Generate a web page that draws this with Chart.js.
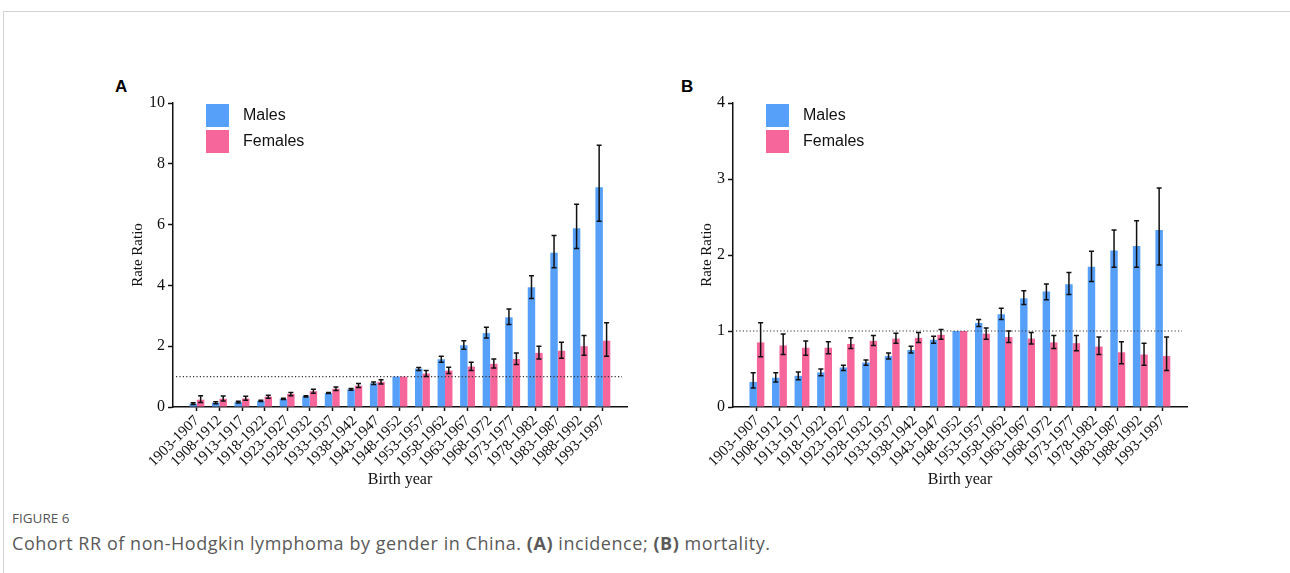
<!DOCTYPE html>
<html>
<head>
<meta charset="utf-8">
<script src="https://cdn.jsdelivr.net/npm/chart.js@4.4.0/dist/chart.umd.min.js"></script>
<style>
  body { margin: 0; background: #fff; width: 1290px; height: 573px; position: relative; overflow: hidden; font-family: "Open Sans", sans-serif; }
  .frame { position: absolute; left: 3px; top: 11px; width: 1300px; height: 600px; border-top: 1px solid #d2d2d2; border-left: 1px solid #d2d2d2; }
  .panel { position: absolute; top: 80px; }
  .tag { position: absolute; top: 77px; font: bold 17px "Liberation Sans", Arial, sans-serif; color: #000; }
  .fig { position: absolute; left: 12px; top: 509px; font-size: 13.5px; color: #555; }
  .cap { position: absolute; left: 12px; top: 531px; font-size: 18px; letter-spacing: 0.55px; color: #5a5a5a; white-space: nowrap; }
</style>
</head>
<body>
<div class="frame"></div>
<div class="tag" style="left:115px">A</div>
<div class="tag" style="left:681px">B</div>
<canvas id="chartA" class="panel" style="left:100px" width="540" height="420"></canvas>
<canvas id="chartB" class="panel" style="left:660px" width="540" height="420"></canvas>
<div class="fig">FIGURE 6</div>
<div class="cap">Cohort RR of non-Hodgkin lymphoma by gender in China. <b>(A)</b> incidence; <b>(B)</b> mortality.</div>

<script>
// birth cohorts
var cohorts = ["1903-1907", "1908-1912", "1913-1917", "1918-1922", "1923-1927", "1928-1932",
  "1933-1937", "1938-1942", "1943-1947", "1948-1952", "1953-1957", "1958-1962", "1963-1967",
  "1968-1972", "1973-1977", "1978-1982", "1983-1987", "1988-1992", "1993-1997"];

// (A) incidence
var maleInc = [0.11, 0.14, 0.16, 0.20, 0.27, 0.35, 0.46, 0.58, 0.78, 1.00, 1.26, 1.57, 2.03, 2.43, 2.95, 3.94, 5.07, 5.88, 7.23];
var maleIncLow = [0.08, 0.11, 0.13, 0.18, 0.25, 0.33, 0.44, 0.55, 0.74, null, 1.20, 1.47, 1.90, 2.27, 2.71, 3.57, 4.58, 5.21, 6.11];
var maleIncHigh = [0.14, 0.17, 0.19, 0.22, 0.29, 0.37, 0.48, 0.61, 0.82, null, 1.30, 1.67, 2.18, 2.62, 3.22, 4.32, 5.64, 6.67, 8.61];
var femaleInc = [0.24, 0.27, 0.28, 0.34, 0.43, 0.52, 0.60, 0.70, 0.83, 1.00, 1.10, 1.20, 1.33, 1.42, 1.58, 1.78, 1.85, 2.00, 2.18];
var femaleIncLow = [0.15, 0.20, 0.22, 0.29, 0.37, 0.45, 0.54, 0.64, 0.76, null, 1.00, 1.10, 1.20, 1.28, 1.40, 1.58, 1.60, 1.70, 1.67];
var femaleIncHigh = [0.37, 0.36, 0.35, 0.39, 0.48, 0.58, 0.66, 0.77, 0.90, null, 1.20, 1.31, 1.47, 1.58, 1.78, 2.00, 2.13, 2.35, 2.77];

// (B) mortality
var maleMort = [0.33, 0.385, 0.41, 0.455, 0.52, 0.585, 0.67, 0.75, 0.885, 1.00, 1.106, 1.22, 1.43, 1.52, 1.615, 1.845, 2.06, 2.12, 2.33];
var maleMortLow = [0.25, 0.33, 0.36, 0.41, 0.48, 0.55, 0.63, 0.71, 0.84, null, 1.06, 1.15, 1.35, 1.41, 1.48, 1.65, 1.84, 1.84, 1.87];
var maleMortHigh = [0.45, 0.45, 0.46, 0.50, 0.55, 0.62, 0.71, 0.80, 0.93, null, 1.15, 1.30, 1.53, 1.62, 1.77, 2.05, 2.33, 2.45, 2.88];
var femaleMort = [0.85, 0.81, 0.78, 0.78, 0.83, 0.87, 0.90, 0.91, 0.95, 1.00, 0.965, 0.92, 0.90, 0.85, 0.84, 0.795, 0.72, 0.69, 0.67];
var femaleMortLow = [0.66, 0.69, 0.68, 0.70, 0.77, 0.81, 0.84, 0.85, 0.89, null, 0.89, 0.85, 0.83, 0.77, 0.74, 0.69, 0.57, 0.55, 0.48];
var femaleMortHigh = [1.11, 0.96, 0.87, 0.86, 0.91, 0.94, 0.97, 0.98, 1.02, null, 1.04, 1.00, 0.98, 0.94, 0.94, 0.92, 0.86, 0.84, 0.92];

var blue = "#56a0fa";
var pink = "#f6669a";
var ink = "#111";
var serif = "'Liberation Serif', 'Times New Roman', serif";

function points(values) {
  return values.map(function(v, i) { return { x: i, y: v }; });
}

// dotted reference line at RR = 1
var refLine = {
  id: "refLine",
  afterDatasetsDraw: function(chart) {
    var ctx = chart.ctx, area = chart.chartArea;
    var y = chart.scales.y.getPixelForValue(1);
    ctx.save();
    ctx.strokeStyle = "#333";
    ctx.lineWidth = 1.2;
    ctx.setLineDash([1.2, 2.2]);
    ctx.beginPath();
    ctx.moveTo(area.left + 3, y);
    ctx.lineTo(area.right - 5, y);
    ctx.stroke();
    ctx.restore();
  }
};

// 95% CI whiskers
var errorBars = {
  id: "errorBars",
  afterDatasetsDraw: function(chart) {
    var ctx = chart.ctx, scale = chart.scales.y;
    ctx.save();
    ctx.strokeStyle = ink;
    ctx.lineWidth = 1.5;
    chart.data.datasets.forEach(function(ds, di) {
      chart.getDatasetMeta(di).data.forEach(function(bar, i) {
        if (ds.low[i] == null) return;
        var x = bar.x;
        var y1 = scale.getPixelForValue(ds.low[i]);
        var y2 = scale.getPixelForValue(ds.high[i]);
        ctx.beginPath();
        ctx.moveTo(x, y1); ctx.lineTo(x, y2);
        ctx.moveTo(x - 2.5, y1); ctx.lineTo(x + 2.5, y1);
        ctx.moveTo(x - 2.5, y2); ctx.lineTo(x + 2.5, y2);
        ctx.stroke();
      });
    });
    ctx.restore();
  }
};

// legend inside the plot, top left
var legendBox = {
  id: "legendBox",
  afterDraw: function(chart) {
    var ctx = chart.ctx, area = chart.chartArea;
    ctx.save();
    ctx.font = "16px 'Liberation Sans', Arial, sans-serif";
    ctx.textBaseline = "middle";
    chart.data.datasets.forEach(function(ds, i) {
      var x = area.left + 33, y = area.top + 1 + i * 26;
      ctx.fillStyle = ds.backgroundColor;
      ctx.fillRect(x, y, 23, 23);
      ctx.fillStyle = ink;
      ctx.fillText(ds.label, x + 37, y + 12);
    });
    ctx.restore();
  }
};

function makeChart(id, o) {
  return new Chart(document.getElementById(id), {
    type: "bar",
    data: {
      datasets: [
        { label: "Males", data: points(o.males), low: o.maleLow, high: o.maleHigh,
          backgroundColor: blue, categoryPercentage: 0.66, barPercentage: 1 },
        { label: "Females", data: points(o.females), low: o.femaleLow, high: o.femaleHigh,
          backgroundColor: pink, categoryPercentage: 0.66, barPercentage: 1 }
      ]
    },
    options: {
      responsive: false,
      animation: false,
      layout: { padding: { left: o.padLeft, top: 23, right: 13, bottom: 8 } },
      plugins: { legend: { display: false }, tooltip: { enabled: false } },
      scales: {
        x: {
          type: "linear",
          min: -1.06,
          max: 19.07,
          offset: false,
          afterBuildTicks: function(s) {
            s.ticks = cohorts.map(function(c, i) { return { value: i }; });
          },
          afterFit: function(s) { s.height = 85; s.paddingLeft = 0; s.paddingRight = 0; },
          ticks: {
            autoSkip: false, minRotation: 45, maxRotation: 45, padding: 1, color: ink,
            font: { family: serif, size: 15 },
            callback: function(v) { return cohorts[v]; }
          },
          grid: { drawOnChartArea: false, offset: false, tickLength: 4, tickColor: ink, tickWidth: 1.5 },
          border: { color: ink, width: 1.5 },
          title: { display: true, text: "Birth year", color: ink, font: { family: serif, size: 16 }, padding: { top: 0, bottom: 3 } }
        },
        y: {
          min: 0,
          max: o.yMax,
          afterFit: function(s) { s.width = o.yWidth; },
          ticks: { stepSize: o.step, padding: 3, color: ink, font: { family: serif, size: 16 } },
          grid: { drawOnChartArea: false, tickLength: 5, tickColor: ink, tickWidth: 1.5 },
          border: { color: ink, width: 1.5 },
          title: { display: true, text: "Rate Ratio", color: ink, font: { family: serif, size: 15 }, padding: 0 }
        }
      }
    },
    plugins: [refLine, errorBars, legendBox]
  });
}

makeChart("chartA", {
  males: maleInc, maleLow: maleIncLow, maleHigh: maleIncHigh,
  females: femaleInc, femaleLow: femaleIncLow, femaleHigh: femaleIncHigh,
  yMax: 10, step: 2, padLeft: 29, yWidth: 44
});

makeChart("chartB", {
  males: maleMort, maleLow: maleMortLow, maleHigh: maleMortHigh,
  females: femaleMort, femaleLow: femaleMortLow, femaleHigh: femaleMortHigh,
  yMax: 4, step: 1, padLeft: 38, yWidth: 35
});
</script>
</body>
</html>
